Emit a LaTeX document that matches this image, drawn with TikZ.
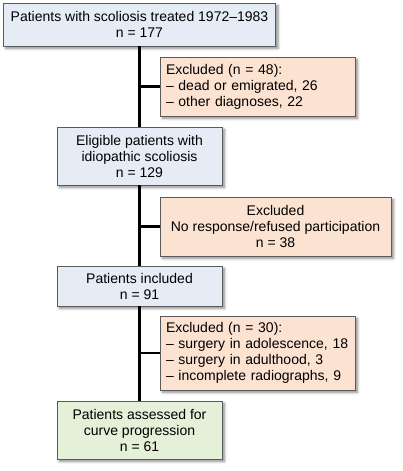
\documentclass[tikz,border=0pt]{standalone}
\usepackage{fontspec}
\setmainfont{Liberation Sans}
\usetikzlibrary{shadows.blur}
\definecolor{bluefill}{HTML}{E5ECF6}
\definecolor{orangefill}{HTML}{FCE2D0}
\definecolor{greenfill}{HTML}{E5F0D8}
\definecolor{bordergray}{HTML}{5A5A5A}
\tikzset{
  box/.style={draw=bordergray, line width=1pt, inner sep=0pt, outer sep=0pt,
    font=\fontsize{14}{16}\selectfont,
    blur shadow={shadow xshift=2.5pt, shadow yshift=-2.5pt, shadow blur steps=6, shadow blur radius=2.5pt, shadow opacity=45}},
  mainbox/.style={box, fill=bluefill, align=center},
  exbox/.style={box, fill=orangefill},
  link/.style={line width=2.6pt, black},
}
\begin{document}
\begin{tikzpicture}[x=1pt,y=-1pt]
\useasboundingbox (0,0) rectangle (402,471);
\node[mainbox, minimum width=272pt, minimum height=43pt] (b1) at (139.5,24.5)
  {Patients with scoliosis treated 1972–1983\\n = 177};
\node[mainbox, minimum width=165pt, minimum height=58pt] (elig) at (139.5,156)
  {Eligible patients with\\idiopathic scoliosis\\n = 129};
\node[mainbox, minimum width=165pt, minimum height=40pt] (incl) at (139.5,286)
  {Patients included\\n = 91};
\node[mainbox, fill=greenfill, minimum width=165pt, minimum height=58pt] (final) at (139.5,430)
  {Patients assessed for\\curve progression\\n = 61};
\node[exbox, align=left, inner xsep=6pt, text width=183pt, minimum height=59pt] (ex1) at (257.5,86.5)
  {Excluded (n = 48):\\– dead or emigrated, 26\\– other diagnoses, 22};
\node[exbox, align=center, minimum width=231pt, minimum height=59pt] (ex2) at (275.5,226.5)
  {Excluded\\No response/refused participation\\n = 38};
\node[exbox, align=left, inner xsep=6pt, text width=183pt, minimum height=74pt] (ex3) at (257.5,353)
  {Excluded (n = 30):\\– surgery in adolescence, 18\\– surgery in adulthood, 3\\– incomplete radiographs, 9};
\draw[link] (b1.south) -- (elig.north);
\draw[link] (elig.south) -- (incl.north);
\draw[link] (incl.south) -- (final.north);
\draw[link] (ex1.west) -- (ex1.west -| elig.north);
\draw[link] (ex2.west) -- (ex2.west -| elig.north);
\draw[link] (ex3.west) -- (ex3.west -| elig.north);
\end{tikzpicture}
\end{document}
